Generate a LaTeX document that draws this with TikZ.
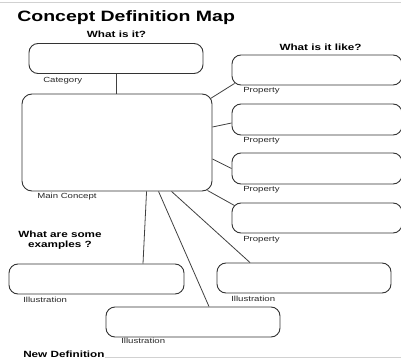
\documentclass[tikz,border=0pt]{standalone}
\usepackage{fontspec}
\setmainfont{Liberation Sans}
\usetikzlibrary{calc}
\begin{document}
\begin{tikzpicture}[x=1pt,y=-1pt,
  card/.style={draw=black!80, line width=0.9pt, rounded corners=9pt, minimum width=174pt, minimum height=30pt, inner sep=0pt},
  link/.style={draw=black!75, line width=0.8pt},
  rule/.style={draw=black!18, line width=1pt},
  caption/.style={font=\fontsize{7.4}{9}\selectfont, text=black!85, anchor=base west, inner sep=0pt, xscale=1.3},
  prompt/.style={font=\fontsize{9}{10.5}\selectfont\bfseries, anchor=base, inner sep=0pt, xscale=1.3},
  heading/.style={font=\fontsize{15}{18}\selectfont\bfseries, anchor=base west, inner sep=0pt, xscale=1.3}]
\useasboundingbox (0,0) rectangle (401,358);

% page rules
\coordinate (topL) at (0,3);
\coordinate (topR) at (401,3);
\draw[rule] (topL) -- (topR);

% title and prompts
\node[heading] (title) at (17,22) {Concept Definition Map};
\node[prompt] (qwhat) at (116.5,38) {What is it?};
\node[prompt] (qlike) at (320.5,50.5) {What is it like?};
\node[prompt] (qex1) at (60,237) {What are some};
\node[prompt] (qex2) at (60,247) {examples ?};

% boxes
\node[card] (cat) at (116,58.5) {};
\node[card, minimum width=190pt, minimum height=97pt, rounded corners=10pt] (main) at (117,142.5) {};
\node[card, minimum width=170pt] (p1) at (317,70) {};
\node[card, minimum width=170pt, minimum height=31pt] (p2) at (317,119.5) {};
\node[card, minimum width=170pt, minimum height=31pt] (p3) at (317,168.5) {};
\node[card, minimum width=170pt] (p4) at (317,218) {};
\node[card, minimum width=175pt] (il1) at (96.5,279) {};
\node[card] (il2) at (304,278) {};
\node[card] (il3) at (193,322) {};

% captions
\node[caption] (lcat) at (43,82.5) {Category};
\node[caption] (lmain) at (37,198) {Main Concept};
\node[caption] (lp1) at (243,93) {Property};
\node[caption] (lp2) at (243,143) {Property};
\node[caption] (lp3) at (243,191.5) {Property};
\node[caption] (lp4) at (243,241.5) {Property};
\node[caption] (lil1) at (23,302) {Illustration};
\node[caption] (lil2) at (231,301) {Illustration};
\node[caption] (lil3) at (121,343) {Illustration};

% connectors
\draw[link] (cat.south) -- (cat.south |- main.north);
\draw[link] ($(main.north east)+(-2,5)$) -- ($(p1.south west)+(3,-2)$);
\draw[link] ($(main.east)+(0,-15.5)$) -- ($(p2.west)+(0,3.5)$);
\draw[link] ($(main.east)+(0,16.5)$) -- (p3.west);
\draw[link] ($(main.south east)+(-5,-1)$) -- ($(p4.north west)+(3,3)$);
\draw[link] ($(main.south west)+(125,0)$) -- ($(il1.north)+(46.5,0)$);
\draw[link] ($(main.south west)+(137,0)$) -- ($(il3.north)+(16,0)$);
\draw[link] ($(main.south west)+(150,0)$) -- ($(il2.north)+(-54,0)$);

% new definition line
\node[heading, font=\fontsize{9}{10.5}\selectfont\bfseries] (newdef) at (23,357) {New Definition};
\coordinate (defL) at (105,357);
\coordinate (defR) at (401,357);
\draw[rule] (defL) -- (defR);
\end{tikzpicture}
\end{document}
